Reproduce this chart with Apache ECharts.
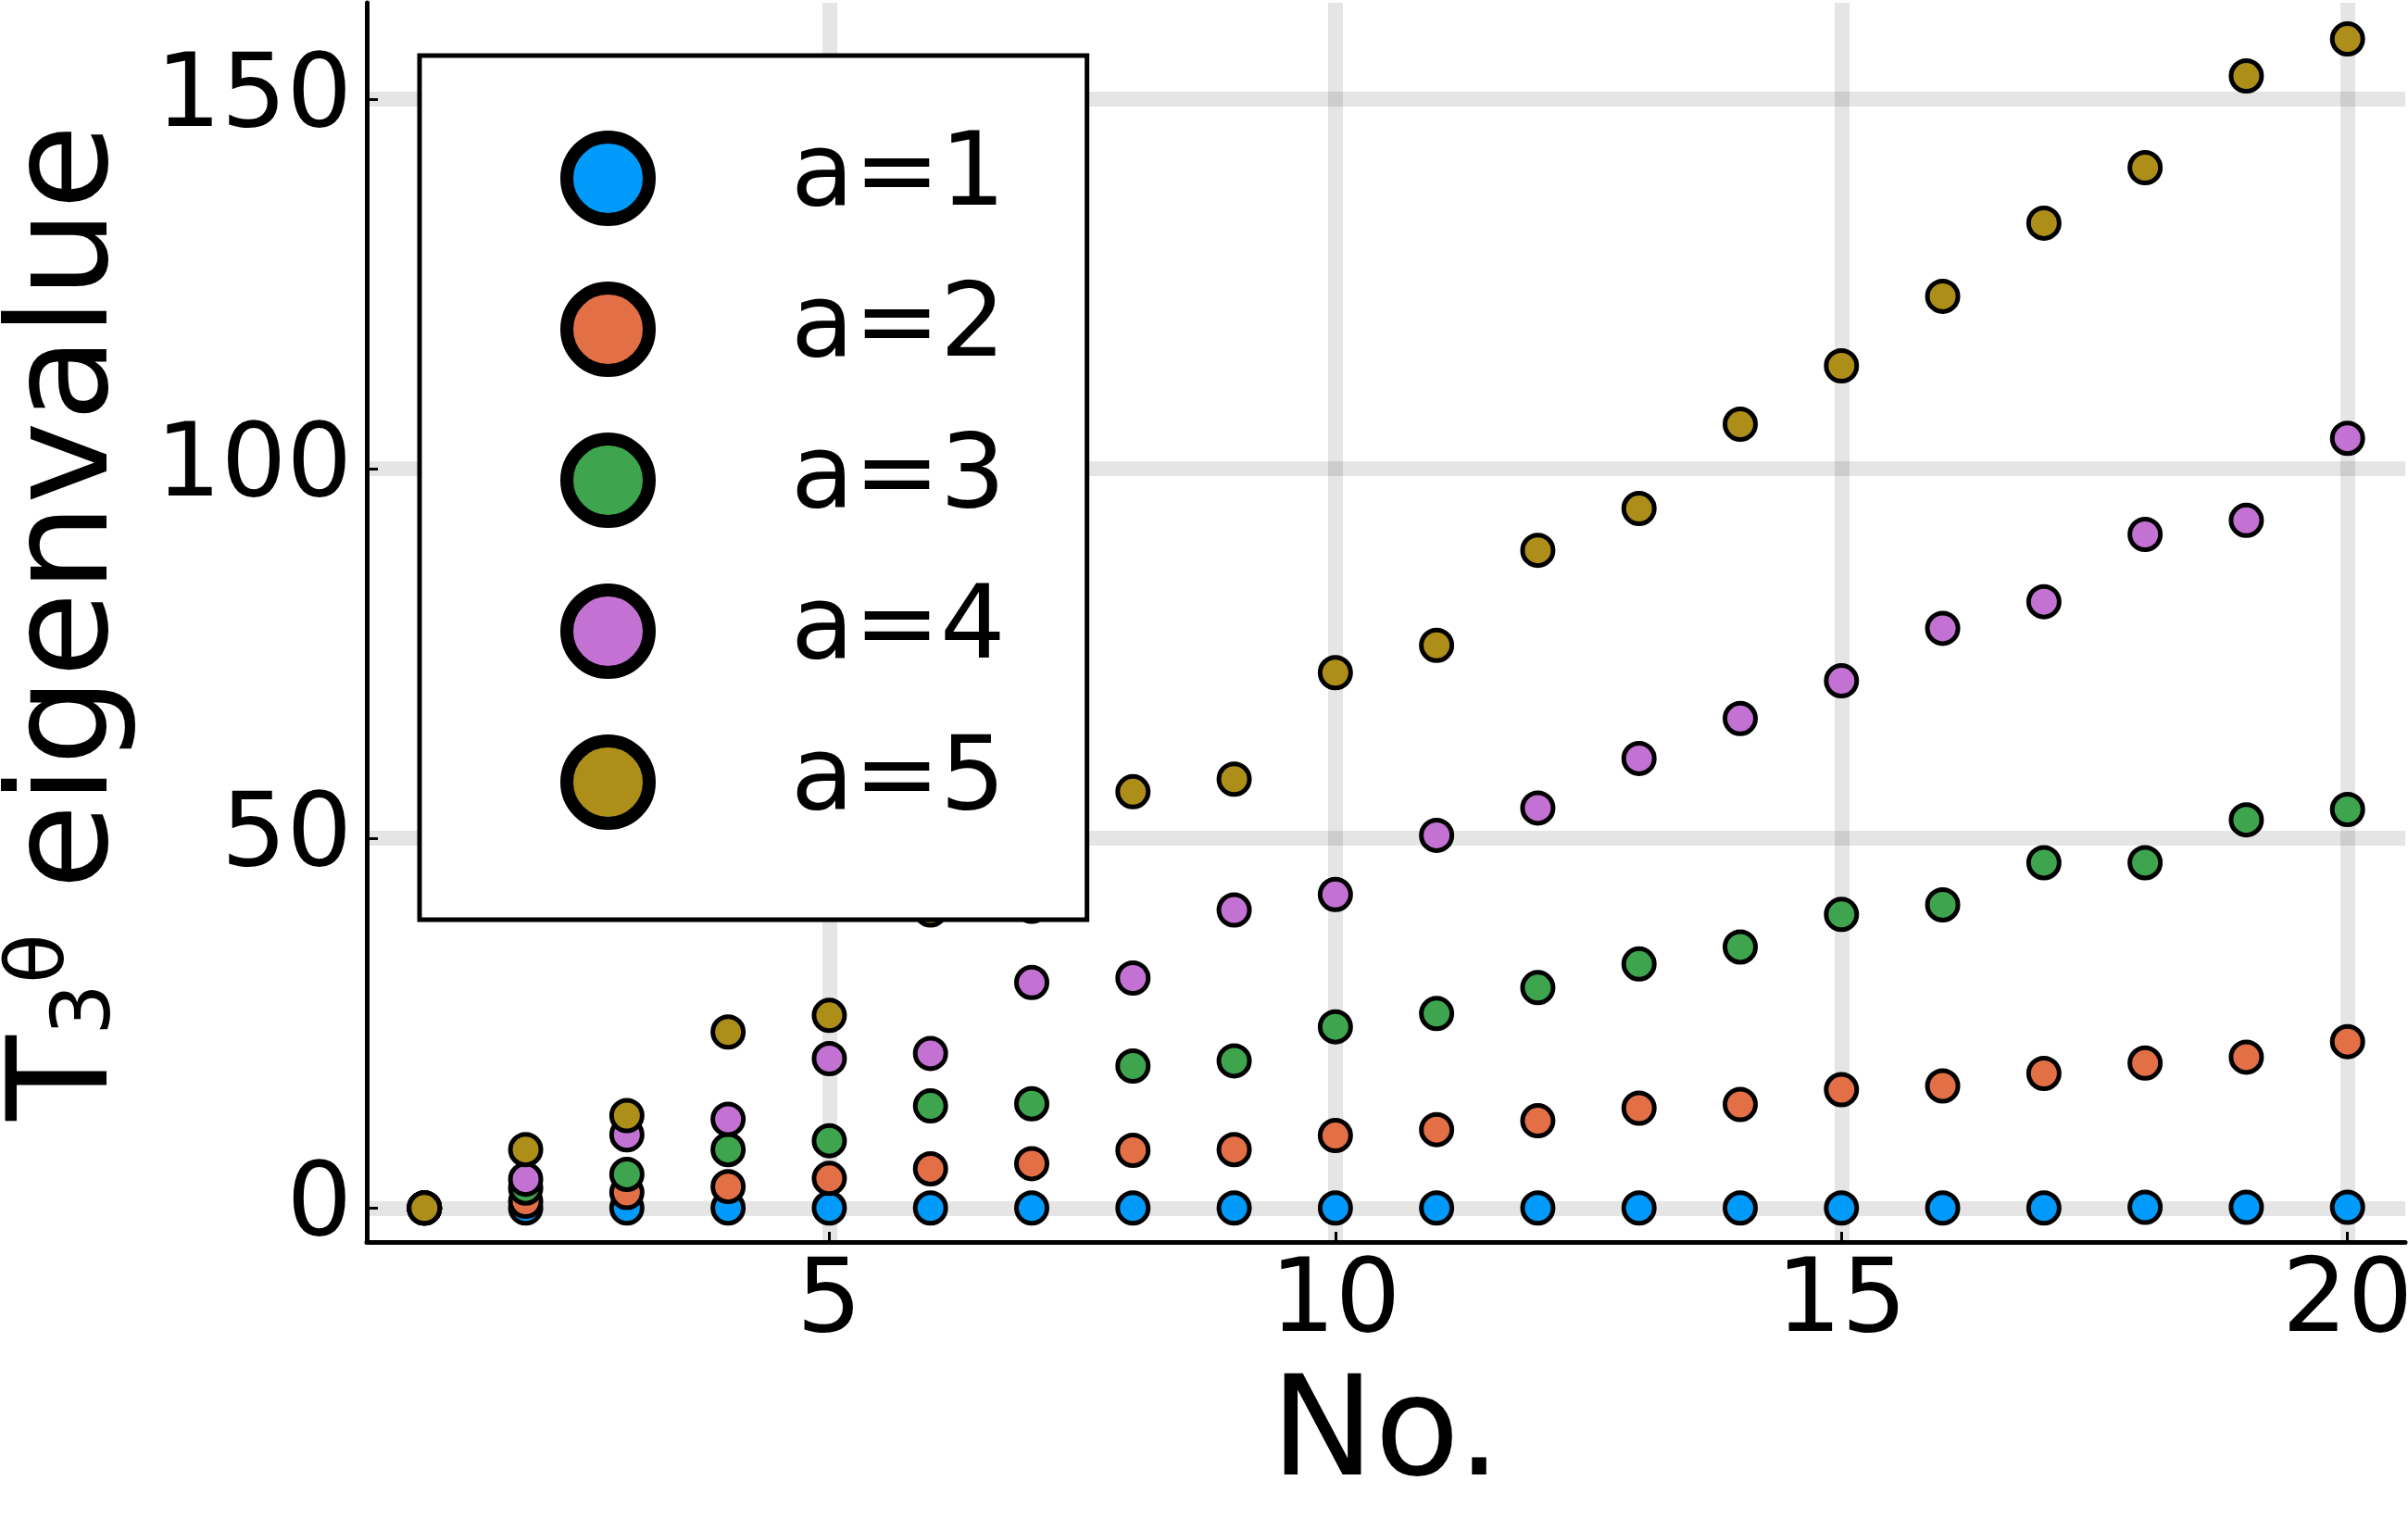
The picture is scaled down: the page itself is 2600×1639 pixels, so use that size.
<!DOCTYPE html>
<html>
<head>
<meta charset="utf-8">
<script src="https://cdn.jsdelivr.net/npm/echarts@6/dist/echarts.min.js"></script>
<style>
html,body{margin:0;padding:0;background:#fff;}
#chart{width:2600px;height:1639px;}
</style>
</head>
<body>
<div id="chart"></div>
<script>
// ---- data ----
const nos = [1,2,3,4,5,6,7,8,9,10,11,12,13,14,15,16,17,18,19,20];
const seriesNames = ['a=1','a=2','a=3','a=4','a=5'];
const a1 = [0,0,0,0,0,0,0,0,0,0,0,0,0,0,0,0,0,0.1,0.1,0.1];
const a2 = [0,0.9,2.1,2.9,4.0,5.3,6.0,7.8,7.9,9.8,10.6,11.8,13.5,14.0,16.0,16.5,18.2,19.6,20.4,22.5];
const a3 = [0,2.7,4.55,7.9,9.1,13.8,14.1,19.2,19.9,24.5,26.3,29.8,33.0,35.3,39.7,41.0,46.7,46.7,52.5,53.9];
const a4 = [0,3.9,9.9,12.0,20.2,20.9,30.5,31.1,40.3,42.4,50.4,54.1,60.8,66.2,71.3,78.4,82.0,91.1,93.0,104.1];
const a5 = [0,7.9,12.5,23.8,26.05,40.3,40.8,56.3,58.0,72.4,76.1,88.95,94.6,106.0,113.9,123.3,133.2,140.7,153.1,158.1];
const xTicks = [5,10,15,20];
const yTicks = [0,50,100,150];
const colors = ['#009AFA','#E36F47','#3EA44E','#C371D2','#AC8E18'];

const allSeries = [a1,a2,a3,a4,a5];
const FONT = 'DejaVu Sans';

const chart = echarts.init(document.getElementById('chart'), null, {renderer:'canvas'});
const option = {
  animation: false,
  backgroundColor: '#fff',
  grid: {left: 396, right: 3, top: 3, bottom: 298, containLabel: false, outerBoundsMode: 'none'},
  legend: {
    orient: 'vertical',
    left: 453, top: 60,
    padding: [77, 88, 93, 152],
    itemGap: 52,
    itemWidth: 89, itemHeight: 89,
    icon: 'circle',
    backgroundColor: '#fff',
    borderColor: '#000',
    borderWidth: 5,
    borderRadius: 0,
    itemStyle: {borderColor: '#000', borderWidth: 14},
    textStyle: {fontSize: 111, fontFamily: FONT, color: '#000', lineHeight: 100, padding: [0,0,0,148]},
    data: seriesNames,
    selectedMode: false
  },
  xAxis: {
    type: 'value', min: 0.43, max: 20.57,
    name: 'No.', nameLocation: 'middle', nameGap: 137, nameMoveOverlap: false,
    nameTextStyle: {fontSize: 150, fontFamily: FONT, color: '#000'},
    axisLine: {show: true, onZero: false, lineStyle: {color: '#000', width: 5}},
    axisTick: {show: true, inside: true, length: 11, lineStyle: {color: '#000', width: 3}, customValues: xTicks},
    axisLabel: {fontSize: 111, fontFamily: FONT, color: '#000', margin: 12, customValues: xTicks},
    splitLine: {show: true, lineStyle: {color: 'rgba(0,0,0,0.1)', width: 16}}
  },
  yAxis: {
    type: 'value', min: -4.6, max: 163,
    name: '{t|T}{s|3}{h|θ}{t| eigenvalue}', nameLocation: 'middle', nameGap: 245, nameMoveOverlap: false,
    nameTextStyle: {
      fontSize: 150, fontFamily: FONT, color: '#000',
      rich: {
        t: {fontSize: 150, fontFamily: FONT, color: '#000', lineHeight: 150},
        s: {fontSize: 88, fontFamily: FONT, color: '#000', lineHeight: 88, verticalAlign: 'bottom', padding: [0,0,12,0]},
        h: {fontSize: 88, fontFamily: FONT, color: '#000', lineHeight: 88, verticalAlign: 'top'}
      }
    },
    axisLine: {show: true, onZero: false, lineStyle: {color: '#000', width: 5}},
    axisTick: {show: true, inside: true, length: 12, lineStyle: {color: '#000', width: 3}, customValues: yTicks},
    axisLabel: {fontSize: 111, fontFamily: FONT, color: '#000', margin: 16, customValues: yTicks},
    splitLine: {show: true, lineStyle: {color: 'rgba(0,0,0,0.1)', width: 16}}
  },
  series: allSeries.map((vals, k) => ({
    name: seriesNames[k],
    type: 'scatter',
    symbol: 'circle',
    symbolSize: 33,
    itemStyle: {color: colors[k], borderColor: '#000', borderWidth: 5, opacity: 1},
    emphasis: {disabled: true},
    data: nos.map((n, i) => [n, vals[i]])
  }))
};
chart.setOption(option);
</script>
</body>
</html>
